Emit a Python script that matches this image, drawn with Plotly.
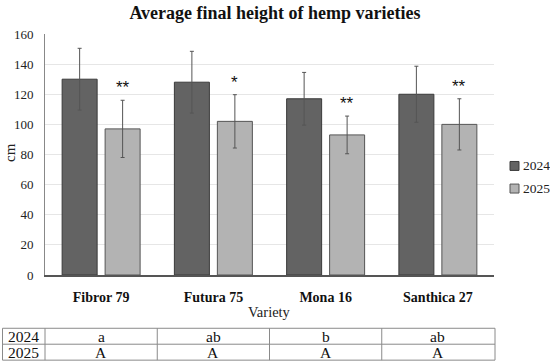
import plotly.graph_objects as go

varieties = ["Fibror 79", "Futura 75", "Mona 16", "Santhica 27"]
years = ["2024", "2025"]
mean_2024 = [130, 128, 117, 120]
sd_2024 = [20.5, 20.5, 17.5, 18.6]
mean_2025 = [97, 102, 93, 100]
sd_2025 = [19, 17.7, 12.5, 17]
signif_2025 = ["**", "*", "**", "**"]
letters_2024 = ["a", "ab", "b", "ab"]
letters_2025 = ["A", "A", "A", "A"]
colors = ["#636363", "#b3b3b3"]
edges = ["#3a3a3a", "#555555"]

W, H = 550, 363
ML, MR, MT, MB = 45, 56, 33.5, 87.5
BARGAP, GROUPGAP = 0.234, 0.186
serif = "Liberation Serif"
plot_w = W - ML - MR
plot_h = H - MT - MB


def px_x(p):
    return (p - ML) / plot_w


def px_y(p):
    return (H - MB - p) / plot_h


fig = go.Figure()
for yr, m, s, c, e in zip(years, [mean_2024, mean_2025], [sd_2024, sd_2025], colors, edges):
    fig.add_bar(x=varieties, y=m, name=yr, showlegend=False,
                marker=dict(color=c, line=dict(color=e, width=1)),
                error_y=dict(type="data", array=s, color="#555555", thickness=1, width=2))

cat_w = plot_w / len(varieties)
offset = cat_w * (1 - BARGAP) / 4

ann = []
shapes = []
for v, m, s, t in zip(varieties, mean_2025, sd_2025, signif_2025):
    ann.append(dict(x=v, y=m + s, xref="x", yref="y", text=t, showarrow=False,
                    xshift=offset, yshift=1, xanchor="center", yanchor="bottom",
                    font=dict(family="Liberation Sans", size=17, color="#111")))

# legend (manual)
for i, (yr, c, e) in enumerate(zip(years, colors, edges)):
    yc = 166 + 22.7 * i
    shapes.append(dict(type="rect", xref="paper", yref="paper",
                       x0=px_x(510), x1=px_x(519), y0=px_y(yc - 4.5), y1=px_y(yc + 4.5),
                       fillcolor=c, line=dict(color=e, width=1)))
    ann.append(dict(x=px_x(521), y=px_y(yc), xref="paper", yref="paper", text=yr,
                    showarrow=False, xanchor="left", yanchor="middle",
                    font=dict(family=serif, size=13.5, color="#222")))

# axis titles
ann.append(dict(x=px_x(10), y=px_y(153), xref="paper", yref="paper", text="cm", textangle=-90,
                showarrow=False, xanchor="center", yanchor="middle",
                font=dict(family=serif, size=15, color="#222")))
ann.append(dict(x=0.5, y=px_y(313), xref="paper", yref="paper", text="Variety",
                showarrow=False, xanchor="center", yanchor="middle",
                font=dict(family=serif, size=14.5, color="#222")))

# table
row_y = [px_y(329), px_y(345), px_y(361)]
n = len(varieties)
for yy in row_y:
    shapes.append(dict(type="line", xref="paper", yref="paper", x0=px_x(2.5), x1=px_x(495),
                       y0=yy, y1=yy, line=dict(color="#8a8a8a", width=1)))
for xx in [px_x(2.5)] + [k / n for k in range(n)] + [px_x(495)]:
    shapes.append(dict(type="line", xref="paper", yref="paper", x0=xx, x1=xx,
                       y0=row_y[0], y1=row_y[-1], line=dict(color="#8a8a8a", width=1)))

for r, (yr, lets) in enumerate(zip(years, [letters_2024, letters_2025])):
    yc = (row_y[r] + row_y[r + 1]) / 2
    ann.append(dict(x=px_x(23.5), y=yc, xref="paper", yref="paper", text=yr, showarrow=False,
                    xanchor="center", yanchor="middle",
                    font=dict(family=serif, size=15.5, color="#111")))
    for v, l in zip(varieties, lets):
        ann.append(dict(x=v, y=yc, xref="x", yref="paper", text=l, showarrow=False,
                        xanchor="center", yanchor="middle",
                        font=dict(family=serif, size=15.5, color="#111")))

fig.update_layout(
    width=W, height=H, margin=dict(l=ML, r=MR, t=MT, b=MB, autoexpand=False),
    paper_bgcolor="white", plot_bgcolor="white",
    barmode="group", bargap=BARGAP, bargroupgap=GROUPGAP, showlegend=False,
    title=dict(text="<b>Average final height of hemp varieties</b>", x=0.5, xanchor="center",
               y=1 - 12.5 / H, yanchor="middle", yref="container",
               font=dict(family=serif, size=18, color="#111")),
    font=dict(family=serif, color="#222"),
    annotations=ann, shapes=shapes,
)
fig.update_yaxes(range=[0, 160], dtick=20, showgrid=True, gridcolor="#e6e6e6",
                 showline=True, linecolor="#888", linewidth=1, automargin=False,
                 ticks="outside", ticklen=8, tickcolor="rgba(0,0,0,0)",
                 tickfont=dict(family=serif, size=13, color="#222"), zeroline=False)
fig.update_xaxes(showline=True, linecolor="#555", linewidth=1.5, automargin=False,
                 ticks="outside", ticklen=8, tickcolor="rgba(0,0,0,0)",
                 tickfont=dict(family=serif, size=14, color="#111", weight="bold"))

fig.write_html("out.html", config={"displayModeBar": False},
               post_script="document.body.style.margin='0';")
